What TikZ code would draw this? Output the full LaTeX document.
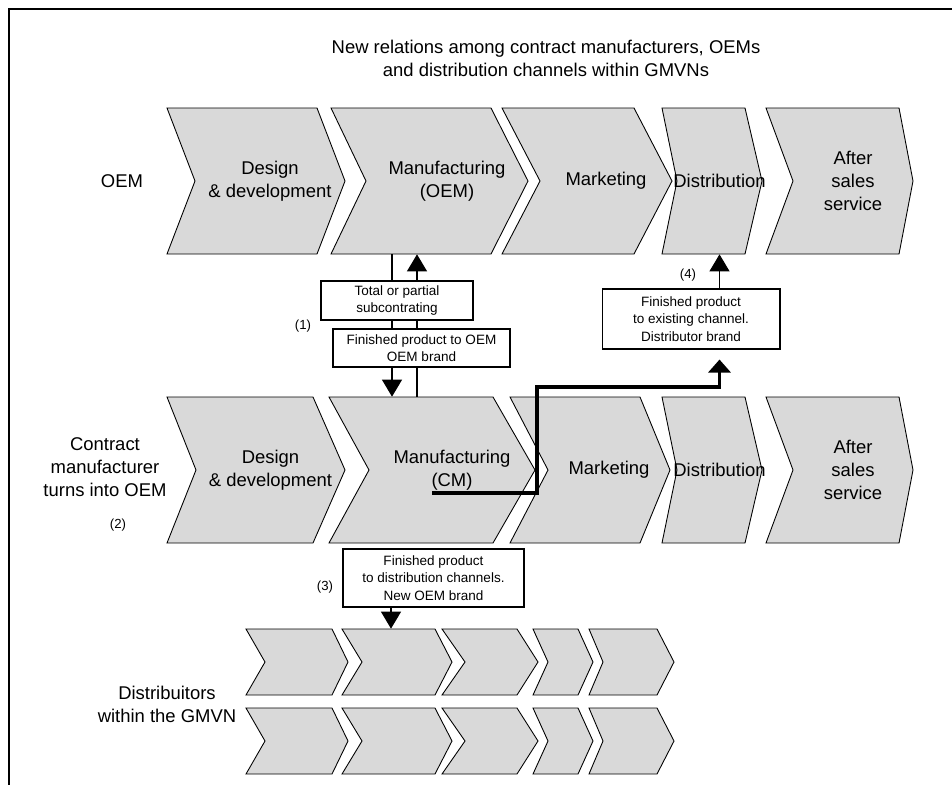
\documentclass[tikz,border=0pt]{standalone}
\usepackage{fontspec}
\setmainfont{Liberation Sans}
\usetikzlibrary{arrows.meta}
\definecolor{chevgray}{RGB}{217,217,217}

% chevron: name, top, bottom, left, notch, right, tip, text
\newcommand{\chev}[8]{%
  \draw[chevron] (#4,#2) -- (#6,#2) -- (#7,{(#2+#3)/2}) -- (#6,#3) -- (#4,#3) -- (#5,{(#2+#3)/2}) -- cycle;
  \node[chevtext, minimum width={(#7-#5)*0.02cm}, minimum height={(#3-#2)*0.02cm}] (#1) at ({(#5+#7)/2},{(#2+#3)/2}) {#8};}

\begin{document}
\begin{tikzpicture}[x=0.02cm, y=-0.02cm,
  chevron/.style={draw, fill=chevgray, line width=0.5pt},
  chevtext/.style={inner sep=0pt, align=center, font=\fontsize{10.5}{13.2}\selectfont},
  rowname/.style={inner sep=0pt, align=center, font=\fontsize{10.5}{13.2}\selectfont},
  numtag/.style={inner sep=0pt, font=\fontsize{7.5}{9}\selectfont},
  box/.style={draw, fill=white, line width=0.6pt, inner sep=0pt, align=center, font=\fontsize{7.7}{10}\selectfont},
  link/.style={line width=0.6pt, -{Triangle[width=0.4cm, length=0.34cm]}},
  route/.style={line width=1.9pt, -{Triangle[width=0.44cm, length=0.26cm]}, shorten >=0.2cm}]
  \useasboundingbox (0,0) rectangle (952,785);
  \draw[line width=0.8pt] (952,9) -- (9,9) -- (9,785);

  \node[rowname] (title) at (546,58) {New relations among contract manufacturers, OEMs\\and distribution channels within GMVNs};

  % OEM chain
  \chev{oemDes}{108}{254}{167}{195}{317}{345}{Design\\\& development}
  \chev{oemMan}{108}{254}{331}{366}{491}{528}{Manufacturing\\(OEM)}
  \chev{oemMkt}{108}{254}{502}{540}{634}{672}{Marketing}
  \chev{oemDist}{108}{254}{662}{677}{745}{762}{Distribution}
  \chev{oemServ}{108}{254}{766}{793}{899}{913}{After\\sales\\service}

  % contract manufacturer chain
  \chev{cmDes}{397}{543}{167}{196}{313}{345}{Design\\\& development}
  \chev{cmMan}{397}{543}{329}{369}{493}{535}{Manufacturing\\(CM)}
  \chev{cmMkt}{397}{543}{510}{548}{640}{670}{Marketing}
  \chev{cmDist}{397}{543}{662}{677}{745}{762}{Distribution}
  \chev{cmServ}{397}{543}{766}{793}{899}{913}{After\\sales\\service}

  % distributors
  \foreach \rw/\yt/\yb in {a/629/695, b/708/774}
    \foreach \cx/\lx/\nx/\rx/\tx in {1/246/265/332/348, 2/342/362/435/452, 3/442/465/517/538, 4/533/548/578/593, 5/589/603/657/674}
      {\chev{d\rw\cx}{\yt}{\yb}{\lx}{\nx}{\rx}{\tx}{}}

  \node[rowname] (oemName) at (122,181) {OEM};
  \node[rowname] (cmName) at (105,467) {Contract\\manufacturer\\turns into OEM};
  \node[rowname] (distName) at (167,704) {Distribuitors\\within the GMVN};

  \node[numtag] (t1) at (303,326) {(1)};
  \node[numtag] (t2) at (118,525) {(2)};
  \node[numtag] (t3) at (325,587) {(3)};
  \node[numtag] (t4) at (688,275) {(4)};

  \coordinate (downx) at (392,0);
  \coordinate (upx) at (417,0);
  \draw[link] (oemMan.south -| downx) -- (cmMan.north -| downx);
  \draw[link] (cmMan.north -| upx) -- (oemMan.south -| upx);

  \node[box, minimum width=3.04cm, minimum height=0.78cm] (subc) at (397,300.5) {Total or partial\\subcontrating};
  \node[box, minimum width=3.54cm, minimum height=0.76cm] (fpoem) at (421.5,348) {Finished product to OEM\\OEM brand};
  \node[box, minimum width=3.56cm, minimum height=1.2cm] (fpchan) at (691,319) {Finished product\\to existing channel.\\Distributor brand};
  \node[box, minimum width=3.62cm, minimum height=1.16cm] (fpdist) at (433.5,578) {Finished product\\to distribution channels.\\New OEM brand};

  \draw[link] (fpchan.north -| oemDist) -- (oemDist.south);
  \coordinate (cmline) at (432,493);
  \coordinate (bend) at (537,387);
  \draw[route] (cmline) -| (bend) -| (fpchan.south -| oemDist);
  \coordinate (distx) at (391,0);
  \draw[link] (fpdist.south -| distx) -- (da2.north -| distx);
\end{tikzpicture}
\end{document}
